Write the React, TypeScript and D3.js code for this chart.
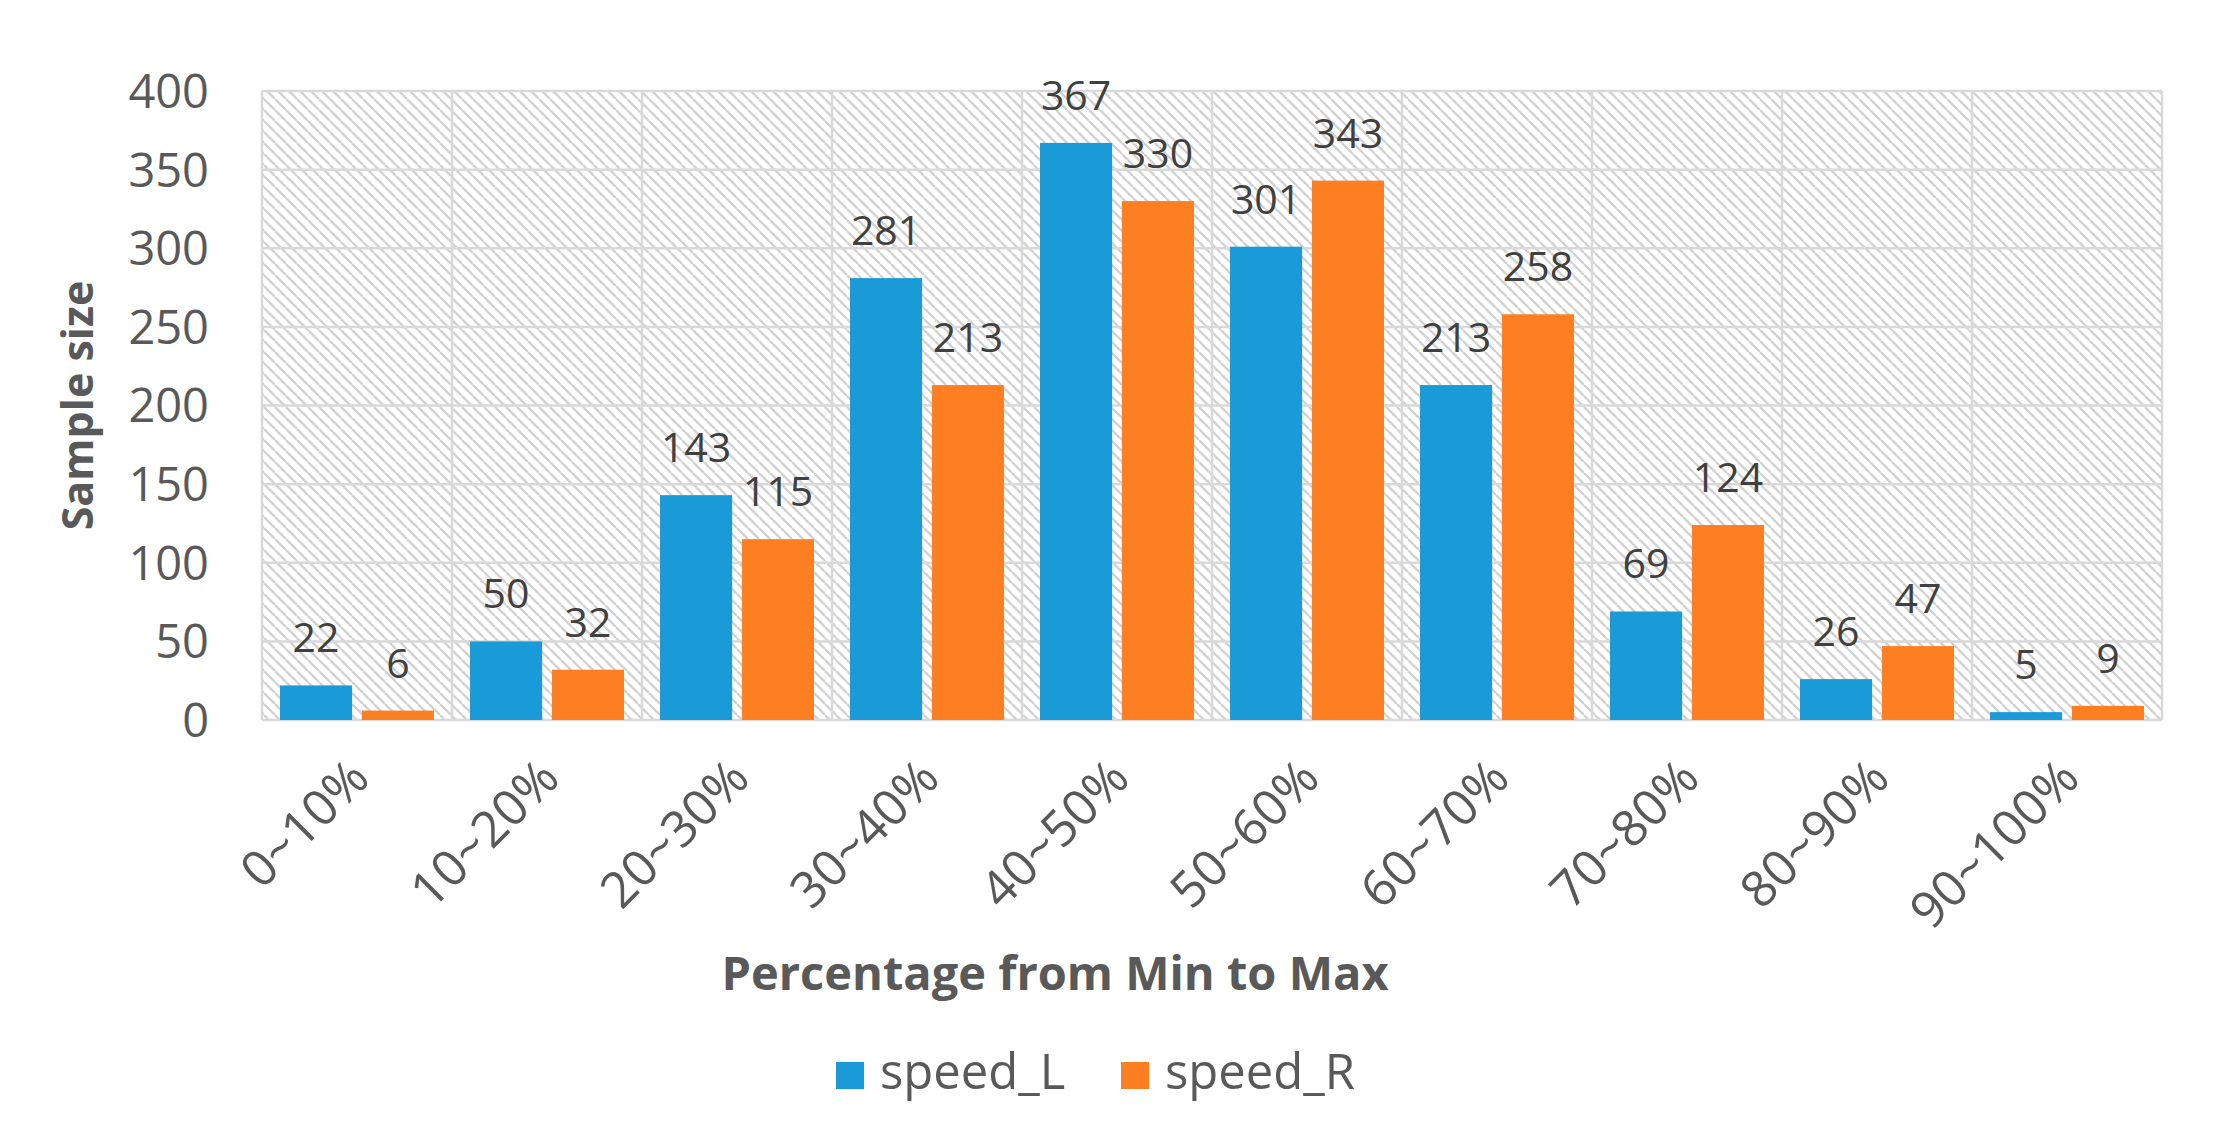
import React, { useEffect } from 'react'
import * as d3 from 'd3'

const categories = ['0~10%', '10~20%', '20~30%', '30~40%', '40~50%', '50~60%', '60~70%', '70~80%', '80~90%', '90~100%']
const speedL = [22, 50, 143, 281, 367, 301, 213, 69, 26, 5]
const speedR = [6, 32, 115, 213, 330, 343, 258, 124, 47, 9]
const seriesNames = ['speed_L', 'speed_R']
const yTicks = [0, 50, 100, 150, 200, 250, 300, 350, 400]

const colors = ['#1a9ad7', '#fd7f21']
const textColor = '#595959'
const gridColor = '#d9d9d9'
const font = '"Open Sans", Lato, sans-serif'

const width = 2226
const height = 1139
const margin = { left: 262, right: 64, top: 91, bottom: 419 }

export default function App() {
  useEffect(() => {
    document.body.style.margin = '0'
  }, [])

  const x0 = d3.scaleBand<string>().domain(categories).range([margin.left, width - margin.right])
  const x1 = d3.scaleBand<string>().domain(seriesNames).range([0, x0.bandwidth()])
    .paddingInner(0.12).paddingOuter(0.22)
  const y = d3.scaleLinear().domain([0, 400]).range([height - margin.bottom, margin.top])

  const values = [speedL, speedR]
  const plotW = width - margin.left - margin.right
  const plotH = y(0) - y(400)

  return <svg width={width} height={height} style={{ display: 'block', background: 'white' }}
              fontFamily={font}>
    <defs>
      <pattern id="hatch" patternUnits="userSpaceOnUse" width={11} height={11}>
        <line x1={0} y1={0} x2={11} y2={11} stroke="#d2d2d2" strokeWidth={2.4} />
        <line x1={-11} y1={0} x2={0} y2={11} stroke="#d2d2d2" strokeWidth={2.4} />
        <line x1={11} y1={0} x2={22} y2={11} stroke="#d2d2d2" strokeWidth={2.4} />
      </pattern>
    </defs>

    <rect x={margin.left} y={y(400)} width={plotW} height={plotH} fill="url(#hatch)" />

    {yTicks.map(t => <line key={'h' + t} x1={margin.left} x2={width - margin.right}
                           y1={y(t)} y2={y(t)} stroke={gridColor} strokeWidth={2.5} />)}
    {categories.map(c => <line key={'v' + c} x1={x0(c)} x2={x0(c)} y1={y(400)} y2={y(0)}
                               stroke={gridColor} strokeWidth={2.5} />)}
    <line x1={width - margin.right} x2={width - margin.right} y1={y(400)} y2={y(0)}
          stroke={gridColor} strokeWidth={2.5} />

    {yTicks.map(t => <text key={'yt' + t} x={209} y={y(t)} dy="0.36em" textAnchor="end"
                           fontSize={47} fill={textColor}>{t}</text>)}

    {categories.map((c, i) => <g key={c} transform={`translate(${x0(c)},0)`}>
      {seriesNames.map((s, j) => {
        const v = values[j][i]
        const bx = x1(s) as number
        return <g key={s}>
          <rect x={bx} y={y(v)} width={x1.bandwidth()} height={y(0) - y(v)} fill={colors[j]} />
          <text x={bx + x1.bandwidth() / 2} y={y(v) - 33} textAnchor="middle"
                fontSize={41} fill="#404040">{v}</text>
        </g>
      })}
      <text transform={`translate(${x0.bandwidth() / 2 - 10},${y(0) + 36}) rotate(-45)`}
            textAnchor="end" dy="0.7em" fontSize={50} fill={textColor}>{c}</text>
    </g>)}

    <text transform={`translate(78,${(y(0) + y(400)) / 2}) rotate(-90)`} textAnchor="middle"
          dy="0.35em" fontSize={43} fontWeight="bold" fill={textColor}>Sample size</text>
    <text x={(margin.left + width - margin.right) / 2 - 157} y={990} textAnchor="middle"
          fontSize={47} fontWeight="bold" fill={textColor}>Percentage from Min to Max</text>

    {seriesNames.map((s, j) => {
      const lx = [836, 1121][j]
      return <g key={s}>
        <rect x={lx} y={1062} width={28} height={27} fill={colors[j]} />
        <text x={lx + 44} y={1089} fontSize={49} fill={textColor}>{s}</text>
      </g>
    })}
  </svg>
}
